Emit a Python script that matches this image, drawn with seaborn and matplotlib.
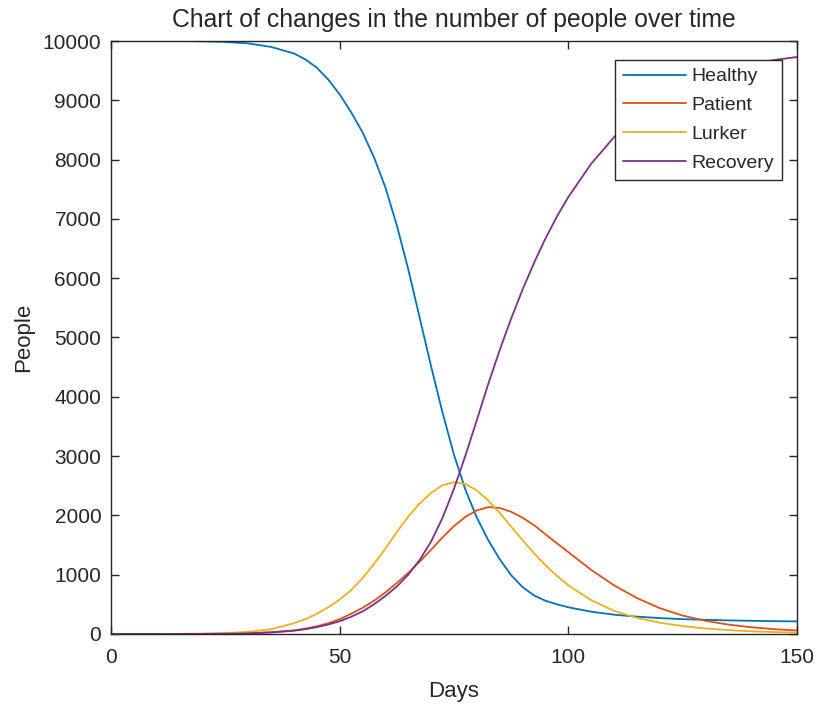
import matplotlib
matplotlib.use("Agg")
import matplotlib.pyplot as plt
import seaborn as sns
import pandas as pd

sns.set_theme(style="white")
plt.rcParams["font.family"] = ["Liberation Sans", "DejaVu Sans"]

# values
days = [0, 5, 10, 15, 20, 25, 30, 35, 40, 42.5, 45, 47.5, 50, 52.5, 55, 57.5,
        60, 62.5, 65, 67.5, 70, 72.5, 75, 77.5, 80, 82.5, 85, 87.5, 90, 92.5,
        95, 97.5, 100, 105, 110, 115, 120, 125, 130, 135, 140, 145, 150]

healthy = [10000, 10000, 10000, 10000, 9995, 9985, 9960, 9900, 9790, 9690,
           9550, 9350, 9100, 8800, 8460, 8040, 7530, 6890, 6150, 5330, 4510,
           3730, 3020, 2430, 1960, 1580, 1260, 990, 790, 650, 560, 500, 450,
           375, 325, 292, 268, 250, 238, 229, 222, 216, 212]

patient = [0, 0, 0, 1, 2, 5, 12, 30, 60, 90, 130, 180, 250, 340, 440, 560,
           700, 860, 1030, 1220, 1420, 1630, 1820, 1975, 2085, 2140, 2125,
           2060, 1960, 1835, 1680, 1530, 1380, 1080, 820, 605, 435, 310, 222,
           158, 113, 81, 58]

lurker = [0, 0, 1, 2, 5, 15, 35, 80, 180, 250, 340, 450, 580, 740, 940,
          1180, 1440, 1720, 1980, 2200, 2380, 2510, 2560, 2530, 2420, 2250,
          2040, 1810, 1580, 1360, 1160, 980, 820, 570, 390, 270, 190, 133,
          93, 65, 45, 32, 22]

recovery = [0, 0, 0, 0, 1, 4, 10, 25, 55, 80, 115, 160, 215, 290, 380, 500,
            640, 800, 1000, 1250, 1560, 1960, 2450, 3010, 3610, 4220, 4790,
            5320, 5810, 6260, 6670, 7040, 7370, 7930, 8380, 8740, 9020, 9240,
            9400, 9520, 9610, 9680, 9730]

groups = ["Healthy", "Patient", "Lurker", "Recovery"]
colors = ["#0072BD", "#D95319", "#EDB120", "#7E2F8E"]

frames = []
for name, vals in zip(groups, [healthy, patient, lurker, recovery]):
    frames.append(pd.DataFrame({"Days": days, "People": vals, "group": name}))
df = pd.concat(frames, ignore_index=True)

fig = plt.figure(figsize=(8.21, 7.07), dpi=100)
ax = fig.add_axes([0.1352, 0.1033, 0.8356, 0.8387])

sns.lineplot(data=df, x="Days", y="People", hue="group", hue_order=groups,
             palette=colors, linewidth=1.3, ax=ax)

ax.set_xlim(0, 150)
ax.set_ylim(0, 10000)
ax.set_xticks([0, 50, 100, 150])
ax.set_yticks(range(0, 10001, 1000))
ax.tick_params(direction="in", length=6, width=1, colors="#262626",
               labelsize=15, top=True, right=True, bottom=True, left=True,
               labelcolor="#262626")
ax.tick_params(axis="x", pad=10)
ax.tick_params(axis="y", pad=7)
for sp in ax.spines.values():
    sp.set_color("#262626")
    sp.set_linewidth(1)

ax.set_title("Chart of changes in the number of people over time",
             fontsize=17.8, color="#262626", pad=10)
ax.set_xlabel("Days", fontsize=16, color="#262626", labelpad=10)
ax.set_ylabel("People", fontsize=16, color="#262626", labelpad=6)

leg = ax.legend(loc="upper right", bbox_to_anchor=(0.978, 0.968),
                borderaxespad=0, fontsize=14, handlelength=3.25,
                handletextpad=0.3, labelspacing=0.58, borderpad=0.4,
                fancybox=False, framealpha=1, edgecolor="#262626", title=None)
leg.get_frame().set_linewidth(1)

fig.savefig("out.png", dpi=100)
